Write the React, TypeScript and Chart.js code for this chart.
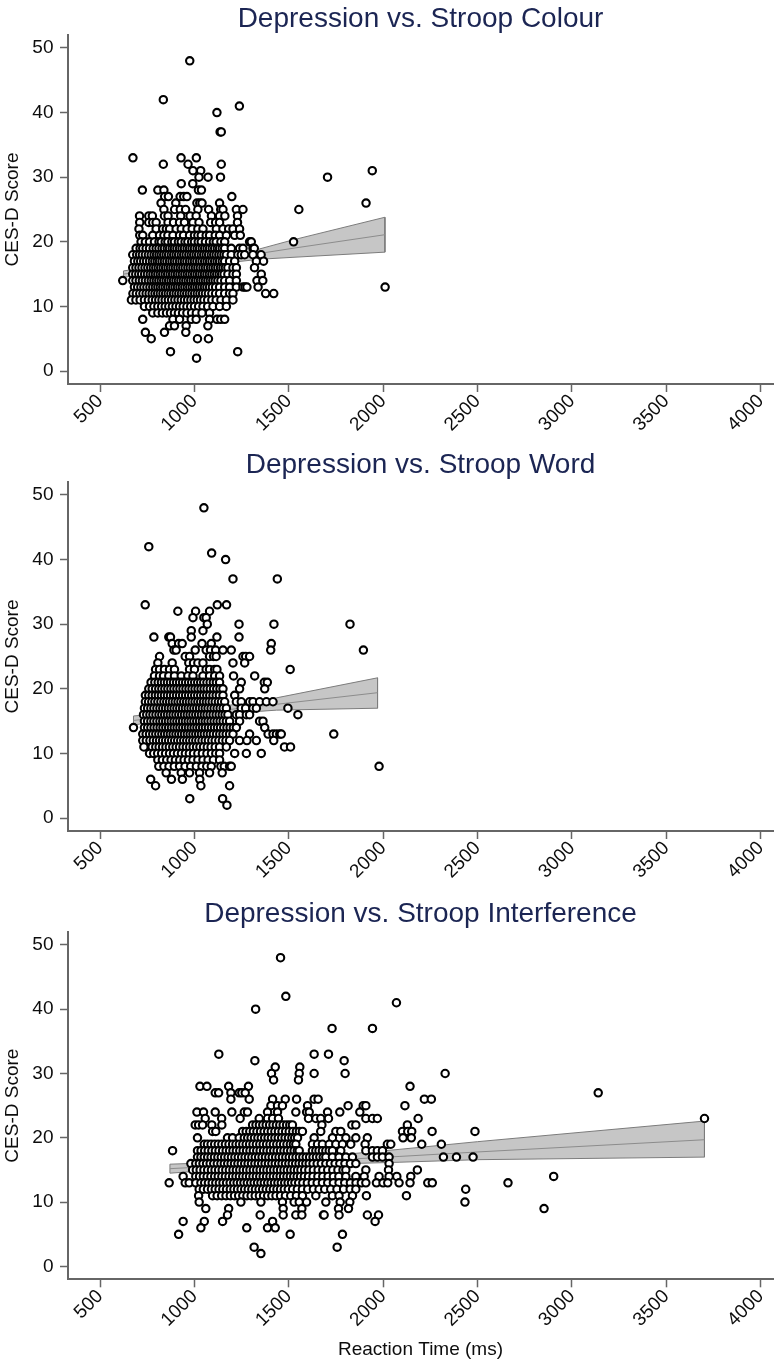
import React, { useEffect, useRef } from "react";
import { Chart, registerables } from "chart.js";

Chart.register(...registerables);

// ---------- tick labels ----------
const xTickValues = [500, 1000, 1500, 2000, 2500, 3000, 3500, 4000];
const yTickValues = [0, 10, 20, 30, 40, 50];

type Row = [number, number[]]; // [CES-D score, reaction times (ms)]

// ---------- Panel 1: Stroop Colour ----------
const colourRows: Row[] = [
  [48, [975]],
  [42, [835]],
  [41, [1238]],
  [40, [1119]],
  [37, [1136, 1142]],
  [33, [674, 929, 1010]],
  [32, [835, 966, 1142]],
  [31, [992, 1033, 1942]],
  [30, [1024, 1072, 1138, 1705]],
  [29, [930, 991]],
  [28, [724, 806, 838, 1021, 1037]],
  [27, [842, 862, 924, 943, 960, 1198]],
  [26, [823, 901, 1013, 1028, 1040, 1133, 1909]],
  [25, [838, 895, 925, 953, 1018, 1075, 1139, 1151, 1222, 1257, 1553]],
  [24, [709, 758, 777, 841, 860, 927, 977, 1009, 1090, 1133, 1161, 1228]],
  [23, [710, 758, 779, 797, 860, 889, 921, 947, 992, 1024, 1086, 1112, 1133, 1228]],
  [22, [706, 797, 832, 851, 868, 903, 930, 960, 988, 1018, 1045, 1116, 1151, 1181, 1204, 1239]],
  [21, [710, 726, 779, 815, 838, 859, 886, 921, 942, 974, 1000, 1018, 1036, 1062, 1080, 1110, 1133, 1169, 1213, 1243]],
  [20, [717, 740, 762, 788, 812, 824, 845, 859, 880, 894, 915, 930, 950, 965, 985, 1000, 1020, 1036, 1058, 1080, 1100, 1115, 1140, 1160, 1292, 1301, 1525]],
  [19, [691, 712, 726, 744, 762, 781, 797, 812, 828, 841, 856, 868, 882, 894, 907, 921, 934, 947, 961, 974, 987, 1000, 1014, 1027, 1041, 1054, 1067, 1080, 1094, 1107, 1121, 1133, 1147, 1160, 1195, 1239, 1257, 1310, 1317]],
  [18, [673, 694, 709, 724, 740, 756, 771, 786, 799, 812, 824, 837, 850, 863, 877, 890, 903, 916, 930, 943, 956, 970, 983, 996, 1009, 1022, 1036, 1049, 1062, 1075, 1089, 1102, 1115, 1129, 1142, 1156, 1169, 1195, 1230, 1248, 1266, 1310, 1353]],
  [17, [682, 700, 715, 731, 746, 762, 777, 790, 803, 815, 828, 841, 854, 868, 881, 894, 907, 921, 934, 947, 960, 974, 987, 1000, 1013, 1027, 1040, 1054, 1067, 1080, 1093, 1107, 1120, 1133, 1147, 1160, 1186, 1213, 1328, 1366]],
  [16, [673, 690, 706, 722, 738, 753, 768, 782, 795, 808, 821, 834, 847, 860, 873, 886, 899, 912, 925, 938, 951, 965, 978, 992, 1005, 1018, 1031, 1045, 1058, 1071, 1085, 1098, 1111, 1124, 1138, 1151, 1164, 1177, 1204, 1222, 1318]],
  [15, [673, 689, 705, 720, 736, 751, 766, 780, 793, 806, 819, 832, 845, 858, 871, 884, 897, 910, 923, 936, 949, 962, 975, 988, 1001, 1014, 1027, 1040, 1053, 1066, 1079, 1092, 1105, 1118, 1131, 1144, 1157, 1177, 1204, 1222, 1354]],
  [14, [620, 673, 690, 708, 724, 740, 756, 771, 785, 798, 811, 824, 837, 850, 863, 876, 889, 902, 915, 928, 941, 954, 967, 980, 993, 1006, 1019, 1032, 1045, 1058, 1071, 1084, 1097, 1110, 1124, 1140, 1160, 1186, 1222, 1331, 1362]],
  [13, [682, 699, 716, 732, 748, 764, 779, 793, 806, 819, 832, 845, 858, 871, 884, 897, 910, 923, 936, 949, 962, 975, 988, 1001, 1014, 1027, 1040, 1053, 1066, 1080, 1095, 1112, 1133, 1160, 1186, 1222, 1257, 1268, 1278, 1337, 2010]],
  [12, [674, 692, 710, 727, 744, 760, 776, 791, 805, 819, 833, 847, 861, 875, 889, 903, 917, 931, 945, 959, 973, 987, 1001, 1015, 1029, 1043, 1058, 1074, 1092, 1112, 1133, 1160, 1186, 1204, 1377, 1420]],
  [11, [666, 690, 712, 735, 756, 776, 794, 811, 828, 845, 862, 879, 896, 913, 930, 947, 964, 981, 998, 1015, 1032, 1050, 1070, 1092, 1115, 1140, 1169, 1204]],
  [10, [735, 762, 785, 806, 826, 845, 864, 883, 902, 921, 940, 960, 980, 1000, 1022, 1045, 1070, 1098, 1133, 1169]],
  [9, [779, 806, 830, 852, 873, 894, 915, 937, 960, 985, 1010, 1040, 1080]],
  [8, [726, 886, 921, 983, 1009, 1080, 1119, 1139, 1160]],
  [7, [868, 894, 956, 1071]],
  [6, [740, 841, 954]],
  [5, [771, 1016, 1074]],
  [3, [873, 1229]],
  [2, [1011]],
];
const colourBandX = [624, 1000, 1345, 1522, 2009];
const colourBandUpper = [15.5, 17.0, 18.9, 20.3, 23.8];
const colourBandFit = [15.0, 16.7, 18.2, 19.0, 21.1];
const colourBandLower = [14.5, 16.2, 17.3, 17.6, 18.4];

// ---------- Panel 2: Stroop Word ----------
const wordRows: Row[] = [
  [48, [1050]],
  [42, [758]],
  [41, [1091]],
  [40, [1165]],
  [37, [1204, 1439]],
  [33, [739, 1121, 1170]],
  [32, [912, 1006, 1080]],
  [31, [992, 1050, 1062]],
  [30, [1068, 1236, 1421, 1824]],
  [29, [983, 1045]],
  [28, [785, 864, 873, 983, 1119, 1236]],
  [27, [882, 916, 935, 1040, 1089, 1407]],
  [26, [891, 903, 1004, 1062, 1085, 1112, 1151, 1195, 1404, 1895]],
  [25, [815, 951, 974, 1080, 1101, 1115, 1257, 1271, 1292]],
  [24, [806, 882, 970, 995, 1018, 1045, 1204, 1266]],
  [23, [794, 815, 841, 868, 894, 974, 1000, 1062, 1080, 1107, 1119, 1507]],
  [22, [788, 815, 836, 864, 894, 930, 965, 992, 1045, 1080, 1107, 1133, 1207, 1319]],
  [21, [770, 790, 808, 825, 841, 857, 873, 889, 905, 921, 937, 953, 969, 985, 1001, 1017, 1033, 1049, 1066, 1083, 1100, 1116, 1133, 1248, 1370, 1386]],
  [20, [758, 776, 794, 811, 827, 843, 859, 875, 891, 907, 923, 939, 955, 971, 987, 1003, 1019, 1035, 1051, 1067, 1084, 1101, 1118, 1135, 1151, 1239, 1372]],
  [19, [740, 758, 776, 793, 809, 825, 841, 857, 873, 889, 905, 921, 937, 953, 969, 985, 1001, 1017, 1033, 1049, 1065, 1081, 1098, 1115, 1132, 1151, 1213]],
  [18, [740, 757, 774, 790, 806, 822, 838, 853, 868, 883, 898, 913, 928, 943, 958, 973, 988, 1003, 1018, 1033, 1048, 1063, 1078, 1094, 1110, 1127, 1143, 1160, 1222, 1248, 1292, 1310, 1345, 1381, 1416]],
  [17, [735, 752, 769, 785, 801, 817, 832, 847, 862, 877, 892, 907, 922, 937, 952, 967, 982, 997, 1012, 1027, 1042, 1057, 1072, 1088, 1104, 1120, 1136, 1152, 1169, 1248, 1271, 1310, 1328, 1495]],
  [16, [730, 747, 764, 780, 796, 812, 827, 842, 857, 872, 887, 902, 917, 932, 947, 962, 977, 992, 1007, 1022, 1037, 1052, 1067, 1083, 1099, 1115, 1131, 1147, 1162, 1177, 1222, 1239, 1275, 1292, 1548]],
  [15, [735, 752, 769, 785, 801, 817, 832, 847, 862, 877, 892, 907, 922, 937, 952, 967, 982, 997, 1012, 1027, 1042, 1057, 1072, 1088, 1104, 1120, 1136, 1152, 1169, 1186, 1239, 1345, 1363]],
  [14, [677, 735, 752, 769, 786, 802, 818, 833, 848, 863, 878, 893, 908, 923, 938, 953, 968, 983, 998, 1013, 1028, 1043, 1058, 1074, 1090, 1106, 1122, 1138, 1155, 1172, 1189, 1206, 1222, 1372]],
  [13, [726, 744, 762, 779, 795, 811, 827, 842, 857, 872, 887, 902, 917, 932, 947, 962, 977, 992, 1007, 1022, 1037, 1052, 1068, 1084, 1100, 1117, 1134, 1151, 1168, 1186, 1204, 1292, 1390, 1416, 1434, 1452, 1460, 1738]],
  [12, [726, 745, 764, 782, 799, 815, 831, 847, 863, 879, 895, 911, 927, 943, 959, 975, 991, 1007, 1023, 1040, 1057, 1074, 1092, 1110, 1129, 1148, 1167, 1186, 1239, 1278, 1328, 1420]],
  [11, [732, 776, 795, 813, 831, 849, 867, 885, 903, 921, 939, 957, 975, 993, 1011, 1029, 1048, 1068, 1088, 1110, 1133, 1169, 1477, 1509]],
  [10, [762, 784, 805, 826, 847, 868, 889, 910, 931, 952, 973, 995, 1018, 1042, 1066, 1090, 1113, 1133, 1213, 1275, 1354]],
  [9, [806, 830, 853, 876, 899, 922, 945, 968, 992, 1018, 1045, 1072, 1100, 1133]],
  [8, [811, 838, 865, 893, 921, 950, 980, 1010, 1040, 1065, 1089, 1140, 1158, 1186, 1195, 1978]],
  [7, [850, 930, 974, 1027, 1080, 1147]],
  [6, [768, 878, 936, 1028]],
  [5, [794, 1034, 1186]],
  [3, [975, 1149]],
  [2, [1172]],
];
const wordBandX = [677, 1000, 1434, 1970];
const wordBandUpper = [15.8, 16.6, 18.6, 21.7];
const wordBandFit = [15.1, 16.2, 17.6, 19.4];
const wordBandLower = [14.4, 15.8, 16.7, 17.0];

// ---------- Panel 3: Stroop Interference ----------
const interfRows: Row[] = [
  [48, [1456]],
  [42, [1484]],
  [41, [2070]],
  [40, [1324]],
  [37, [1729, 1943]],
  [33, [1129, 1634, 1710]],
  [32, [1320, 1793]],
  [31, [1428, 1558]],
  [30, [1408, 1555, 1634, 1798, 2328]],
  [29, [1419, 1551]],
  [28, [1029, 1066, 1181, 1286, 2142]],
  [27, [1110, 1128, 1193, 1237, 1251, 1269, 3139]],
  [26, [1193, 1290, 1414, 1481, 1541, 1634, 1655, 2218, 2255]],
  [25, [1405, 1440, 1466, 1599, 1814, 1894, 1908, 2115]],
  [24, [1013, 1048, 1110, 1198, 1264, 1281, 1387, 1440, 1537, 1594, 1608, 1705, 1770, 1876]],
  [23, [1057, 1144, 1242, 1343, 1387, 1414, 1445, 1604, 1643, 1669, 1710, 1908, 1943, 1969, 2185, 3702]],
  [22, [1004, 1022, 1043, 1092, 1145, 1308, 1326, 1344, 1362, 1380, 1398, 1416, 1434, 1452, 1470, 1488, 1505, 1519, 1675, 1834, 1855, 2128]],
  [21, [1096, 1113, 1255, 1274, 1293, 1312, 1331, 1350, 1369, 1388, 1407, 1426, 1445, 1464, 1483, 1502, 1521, 1540, 1556, 1572, 1669, 1749, 1775, 2102, 2130, 2151, 2259, 2486]],
  [20, [1016, 1175, 1202, 1237, 1264, 1282, 1300, 1318, 1336, 1354, 1372, 1390, 1408, 1426, 1444, 1462, 1480, 1498, 1516, 1531, 1546, 1634, 1731, 1802, 1855, 1916, 2105, 2149]],
  [19, [1052, 1069, 1088, 1107, 1126, 1145, 1164, 1183, 1202, 1220, 1238, 1256, 1274, 1292, 1310, 1328, 1346, 1364, 1382, 1400, 1418, 1436, 1454, 1472, 1490, 1508, 1524, 1537, 1625, 1652, 1678, 1714, 1749, 1784, 1828, 1904, 2022, 2040, 2204, 2308]],
  [18, [884, 1016, 1035, 1054, 1073, 1092, 1111, 1130, 1149, 1168, 1186, 1204, 1222, 1240, 1258, 1276, 1294, 1312, 1330, 1348, 1366, 1384, 1402, 1420, 1438, 1456, 1474, 1492, 1510, 1528, 1545, 1555, 1625, 1643, 1660, 1678, 1696, 1714, 1731, 1775, 1908, 1943, 1969, 1996]],
  [17, [1016, 1034, 1052, 1070, 1088, 1106, 1124, 1142, 1160, 1178, 1196, 1214, 1232, 1250, 1268, 1286, 1304, 1322, 1340, 1358, 1376, 1394, 1412, 1430, 1448, 1466, 1484, 1502, 1520, 1538, 1556, 1574, 1592, 1610, 1628, 1646, 1664, 1682, 1696, 1731, 1766, 1802, 1837, 1943, 1969, 1996, 2031, 2319, 2388, 2476]],
  [16, [981, 1007, 1026, 1045, 1064, 1083, 1102, 1121, 1140, 1158, 1176, 1194, 1212, 1230, 1248, 1266, 1284, 1302, 1320, 1338, 1356, 1374, 1392, 1410, 1428, 1446, 1464, 1482, 1500, 1518, 1536, 1554, 1572, 1590, 1608, 1628, 1650, 1672, 1696, 1720, 1745, 1770, 1797, 1826, 1855, 2031]],
  [15, [990, 1010, 1030, 1050, 1070, 1090, 1109, 1128, 1147, 1166, 1185, 1204, 1222, 1240, 1258, 1276, 1294, 1312, 1330, 1348, 1366, 1384, 1402, 1420, 1438, 1456, 1474, 1492, 1510, 1528, 1546, 1564, 1584, 1606, 1630, 1655, 1680, 1706, 1733, 1760, 1787, 1802, 1908, 2028, 2181]],
  [14, [940, 1007, 1027, 1047, 1067, 1087, 1107, 1126, 1145, 1164, 1183, 1202, 1220, 1238, 1256, 1274, 1292, 1310, 1328, 1346, 1364, 1382, 1400, 1418, 1436, 1454, 1472, 1490, 1508, 1526, 1544, 1562, 1582, 1604, 1628, 1654, 1680, 1708, 1736, 1765, 1802, 1855, 1899, 1978, 2031, 2072, 2146, 2903]],
  [13, [866, 951, 972, 1007, 1034, 1054, 1074, 1094, 1113, 1132, 1151, 1170, 1189, 1208, 1226, 1244, 1262, 1280, 1298, 1316, 1334, 1352, 1370, 1388, 1406, 1424, 1442, 1460, 1478, 1496, 1514, 1532, 1552, 1574, 1598, 1624, 1650, 1678, 1706, 1736, 1766, 1796, 1826, 1856, 1884, 1908, 1964, 1999, 2024, 2084, 2142, 2236, 2260, 2661]],
  [12, [1025, 1047, 1069, 1090, 1110, 1130, 1150, 1170, 1190, 1209, 1228, 1247, 1266, 1285, 1304, 1323, 1342, 1361, 1380, 1399, 1418, 1437, 1456, 1476, 1497, 1520, 1545, 1572, 1600, 1630, 1660, 1690, 1722, 1755, 1790, 1825, 1855, 2437]],
  [11, [1022, 1096, 1120, 1144, 1167, 1190, 1212, 1234, 1256, 1278, 1300, 1322, 1344, 1366, 1388, 1410, 1432, 1456, 1482, 1510, 1540, 1572, 1643, 1731, 1766, 1837, 1911, 2123]],
  [10, [1025, 1246, 1352, 1466, 1528, 1555, 1594, 1696, 1772, 1823, 2433]],
  [9, [1060, 1181, 1470, 1569, 1763, 1816, 2852]],
  [8, [1175, 1348, 1470, 1537, 1569, 1683, 1687, 1766, 1916, 1975]],
  [7, [940, 1052, 1149, 1414, 1957]],
  [6, [1034, 1277, 1387, 1428]],
  [5, [916, 1507, 1784]],
  [3, [1316, 1756]],
  [2, [1352]],
];
const interfBandX = [870, 1450, 2084, 2500, 3702];
const interfBandUpper = [15.9, 16.5, 18.2, 19.4, 22.6];
const interfBandFit = [15.2, 16.1, 17.1, 17.8, 19.7];
const interfBandLower = [14.5, 15.7, 16.2, 16.6, 17.0];

// ---------- helpers ----------
const FONT = "'Liberation Sans', Arial, Helvetica, sans-serif";
const AXIS_GREY = "#666666";

function toPoints(rows: Row[]) {
  const out: { x: number; y: number }[] = [];
  rows.forEach(([y, xs]) => xs.forEach((x) => out.push({ x, y })));
  return out;
}

function bandPolygon(xs: number[], upper: number[], lower: number[]) {
  const pts: { x: number; y: number }[] = [];
  xs.forEach((x, i) => pts.push({ x, y: upper[i] }));
  for (let i = xs.length - 1; i >= 0; i--) pts.push({ x: xs[i], y: lower[i] });
  pts.push({ x: xs[0], y: upper[0] });
  return pts;
}

interface PanelProps {
  title: string;
  rows: Row[];
  bandX: number[];
  bandUpper: number[];
  bandFit: number[];
  bandLower: number[];
  showXTitle: boolean;
  top: number;
  height: number;
  titlePadTop: number;
  areaTop: number;
  areaBottom: number;
}

function Panel(p: PanelProps) {
  const ref = useRef<HTMLCanvasElement | null>(null);
  useEffect(() => {
    if (!ref.current) return;
    const fit = p.bandX.map((x, i) => ({ x, y: p.bandFit[i] }));
    const chart = new Chart(ref.current, {
      type: "scatter",
      data: {
        datasets: [
          {
            data: toPoints(p.rows),
            pointRadius: 3.7,
            pointBorderWidth: 2.1,
            pointBorderColor: "#000000",
            pointBackgroundColor: "#ffffff",
            order: 0,
          } as any,
          {
            data: fit,
            showLine: true,
            pointRadius: 0,
            borderColor: "#8c8c8c",
            borderWidth: 1,
            order: 1,
          } as any,
          {
            data: bandPolygon(p.bandX, p.bandUpper, p.bandLower),
            showLine: true,
            pointRadius: 0,
            borderColor: "#7c7c7c",
            borderWidth: 1,
            backgroundColor: "#c6c6c6",
            fill: "shape",
            order: 2,
          } as any,
        ],
      },
      options: {
        animation: false,
        responsive: false,
        events: [],
        layout: { padding: { left: 0, right: 7, top: 0, bottom: 0 } },
        plugins: {
          legend: { display: false },
          tooltip: { enabled: false },
          title: {
            display: true,
            text: p.title,
            fullSize: false,
            color: "#1b2553",
            font: { family: FONT, size: 28, weight: "normal", lineHeight: 1.0 },
            padding: { top: p.titlePadTop, bottom: p.areaTop - 28 - p.titlePadTop },
          },
        },
        scales: {
          x: {
            type: "linear",
            min: 330,
            max: 4065,
            afterBuildTicks: (s: any) => {
              s.ticks = xTickValues.map((v) => ({ value: v }));
            },
            afterFit: (s: any) => {
              s.height = p.height - p.areaBottom;
            },
            grid: {
              drawOnChartArea: false,
              drawTicks: true,
              tickLength: 8,
              tickColor: AXIS_GREY,
              tickWidth: 1.5,
            },
            border: { display: true, color: AXIS_GREY, width: 2 },
            ticks: {
              autoSkip: false,
              maxRotation: 45,
              minRotation: 45,
              color: "#0d0d0d",
              padding: -2,
              font: { family: FONT, size: 19 },
              callback: (v: any) => String(v),
            },
            title: {
              display: p.showXTitle,
              text: "Reaction Time (ms)",
              color: "#0d0d0d",
              font: { family: FONT, size: 19 },
              padding: { top: 0, bottom: 3.2 },
            },
          },
          y: {
            type: "linear",
            min: -2,
            max: 52,
            afterBuildTicks: (s: any) => {
              s.ticks = yTickValues.map((v) => ({ value: v }));
            },
            afterFit: (s: any) => {
              s.width = 68;
            },
            grid: {
              drawOnChartArea: false,
              drawTicks: true,
              tickLength: 8,
              tickColor: AXIS_GREY,
              tickWidth: 1.5,
            },
            border: { display: true, color: AXIS_GREY, width: 2 },
            ticks: {
              color: "#0d0d0d",
              padding: 6.5,
              font: { family: FONT, size: 19 },
              callback: (v: any) => String(v),
            },
            title: {
              display: true,
              text: "CES-D Score",
              color: "#0d0d0d",
              font: { family: FONT, size: 19 },
              padding: { top: 1.5, bottom: 0 },
            },
          },
        },
      } as any,
    });
    return () => chart.destroy();
  }, []);
  return (
    <div style={{ position: "absolute", left: 0, top: p.top, width: 780, height: p.height }}>
      <canvas ref={ref} width={780} height={p.height} style={{ display: "block", width: 780, height: p.height }} />
    </div>
  );
}

export default function App() {
  return (
    <div
      style={{
        position: "absolute",
        left: 0,
        top: 0,
        width: 780,
        height: 1364,
        overflow: "hidden",
        background: "#ffffff",
      }}
    >
      <Panel
        title="Depression vs. Stroop Colour"
        rows={colourRows}
        bandX={colourBandX}
        bandUpper={colourBandUpper}
        bandFit={colourBandFit}
        bandLower={colourBandLower}
        showXTitle={false}
        top={0}
        height={446}
        titlePadTop={5}
        areaTop={35}
        areaBottom={384}
      />
      <Panel
        title="Depression vs. Stroop Word"
        rows={wordRows}
        bandX={wordBandX}
        bandUpper={wordBandUpper}
        bandFit={wordBandFit}
        bandLower={wordBandLower}
        showXTitle={false}
        top={446}
        height={450}
        titlePadTop={5}
        areaTop={36}
        areaBottom={385}
      />
      <Panel
        title="Depression vs. Stroop Interference"
        rows={interfRows}
        bandX={interfBandX}
        bandUpper={interfBandUpper}
        bandFit={interfBandFit}
        bandLower={interfBandLower}
        showXTitle={true}
        top={896}
        height={468}
        titlePadTop={4}
        areaTop={36}
        areaBottom={383.3}
      />
    </div>
  );
}
